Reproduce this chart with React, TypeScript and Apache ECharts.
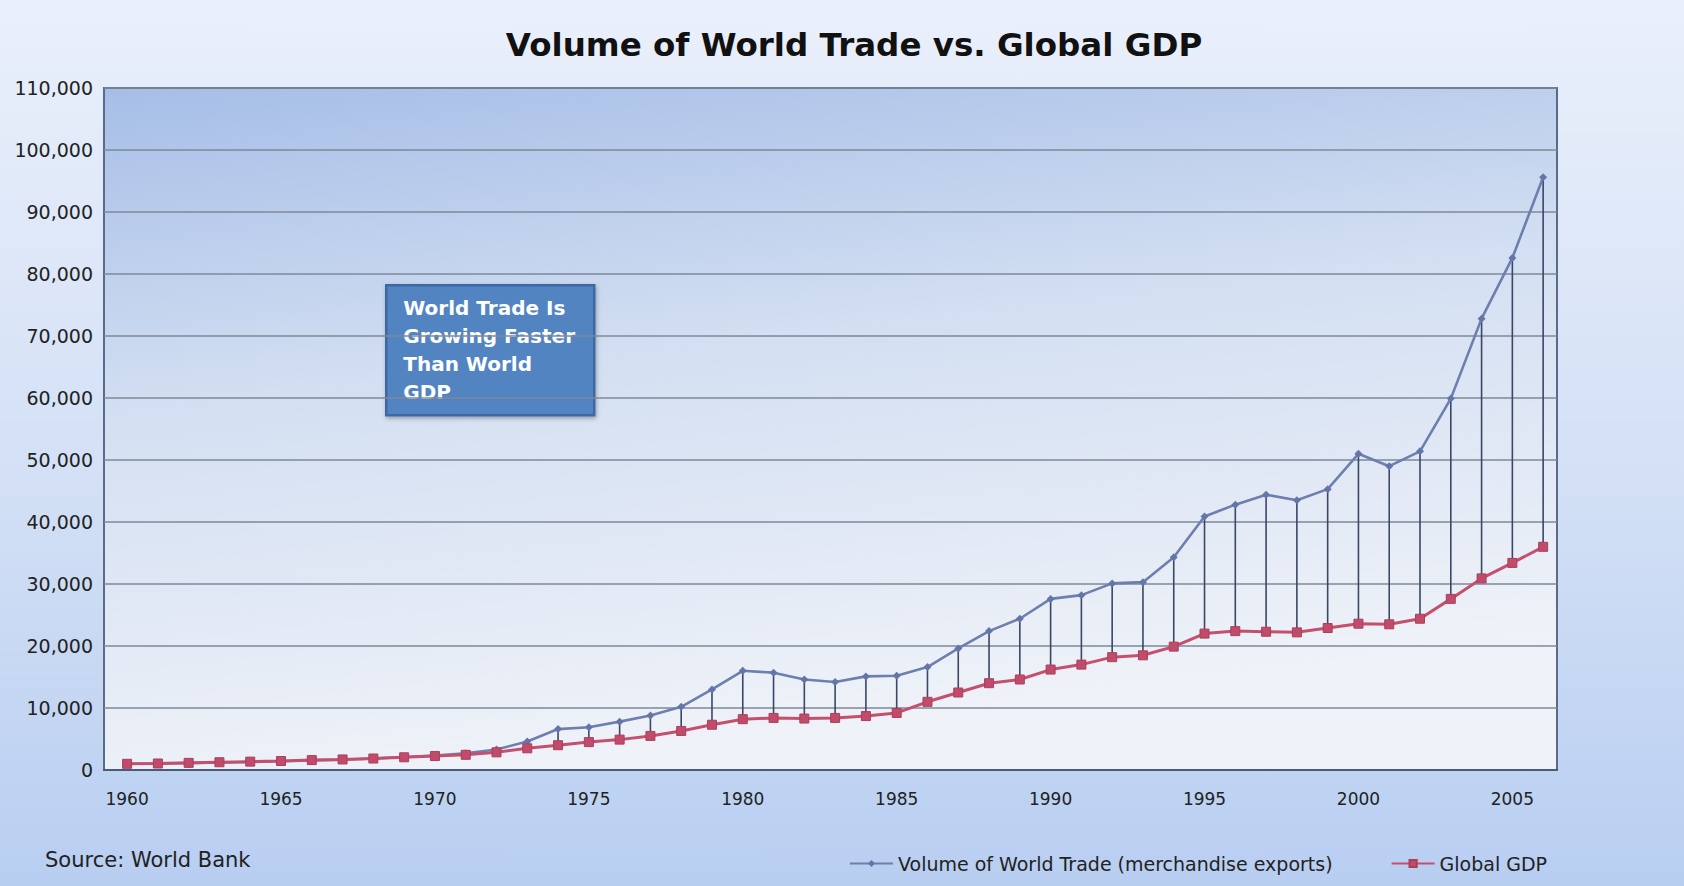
import React, { useEffect, useRef } from "react";
import * as echarts from "echarts";

const years: number[] = [
  1960, 1961, 1962, 1963, 1964, 1965, 1966, 1967, 1968, 1969,
  1970, 1971, 1972, 1973, 1974, 1975, 1976, 1977, 1978, 1979,
  1980, 1981, 1982, 1983, 1984, 1985, 1986, 1987, 1988, 1989,
  1990, 1991, 1992, 1993, 1994, 1995, 1996, 1997, 1998, 1999,
  2000, 2001, 2002, 2003, 2004, 2005, 2006,
];

const worldTrade: number[] = [
  1000, 1050, 1100, 1200, 1300, 1400, 1550, 1650, 1850, 2100,
  2350, 2700, 3300, 4600, 6600, 6900, 7800, 8800, 10200, 13000,
  16000, 15700, 14600, 14200, 15100, 15200, 16600, 19600, 22400, 24400,
  27600, 28200, 30100, 30300, 34300, 40900, 42800, 44400, 43500, 45300,
  51000, 49000, 51400, 59900, 72800, 82600, 95600,
];

const globalGDP: number[] = [
  1000, 1050, 1150, 1250, 1350, 1450, 1600, 1700, 1850, 2050,
  2250, 2450, 2850, 3500, 4000, 4500, 4900, 5500, 6300, 7300,
  8200, 8400, 8300, 8400, 8700, 9200, 11000, 12500, 14000, 14600,
  16200, 17000, 18200, 18500, 19900, 22000, 22400, 22300, 22200, 22900,
  23600, 23500, 24400, 27600, 30900, 33400, 36000,
];

const xTickYears: number[] = [1960, 1965, 1970, 1975, 1980, 1985, 1990, 1995, 2000, 2005];

const seriesNames: string[] = [
  "Volume of World Trade (merchandise exports)",
  "Global GDP",
];

const titleText = "Volume of World Trade vs. Global GDP";
const sourceText = "Source: World Bank";
const noteLines: string[] = ["World Trade Is", "Growing Faster", "Than World", "GDP"];

export default function App() {
  const ref = useRef<HTMLDivElement>(null);

  useEffect(() => {
    document.body.style.margin = "0";
    if (!ref.current) return;
    const chart = echarts.init(ref.current, undefined, { renderer: "svg" });
    const font = "'DejaVu Sans', Verdana, sans-serif";
    const tradePts = years.map((y, i) => [y, worldTrade[i]]);
    const gdpPts = years.map((y, i) => [y, globalGDP[i]]);
    const dropData = years.map((y, i) => [y, worldTrade[i], globalGDP[i]]);

    chart.setOption({
      animation: false,
      backgroundColor: new echarts.graphic.LinearGradient(0, 0, 0, 1, [
        { offset: 0, color: "#eaf0fb" },
        { offset: 0.6, color: "#d0def5" },
        { offset: 1, color: "#b8cef1" },
      ]),
      textStyle: { fontFamily: font },
      title: {
        text: titleText,
        left: 849,
        top: 23,
        textAlign: "center",
        textStyle: { fontSize: 32.5, fontWeight: "bold", color: "#111", fontFamily: font },
      },
      grid: {
        left: 104,
        right: 127,
        top: 88,
        bottom: 116,
        show: true,
        borderColor: "#5a6a88",
        borderWidth: 2,
        backgroundColor: new echarts.graphic.LinearGradient(0, 0, 0.25, 1, [
          { offset: 0, color: "#a6bee7" },
          { offset: 0.45, color: "#d3dff2" },
          { offset: 1, color: "#eff2f8" },
        ]),
      },
      legend: {
        data: seriesNames,
        left: 844,
        top: 849,
        itemWidth: 43,
        itemHeight: 9,
        itemGap: 58,
        textStyle: { fontSize: 19, color: "#222", fontFamily: font },
      },
      xAxis: {
        type: "value",
        min: 1959.25,
        max: 2006.45,
        axisLine: { show: true, onZero: false, lineStyle: { color: "#4a5a78", width: 2 } },
        axisTick: { show: false },
        axisLabel: {
          customValues: xTickYears,
          fontSize: 17,
          color: "#222",
          margin: 20,
          fontFamily: font,
          formatter: (v: number) => String(v),
        },
        splitLine: { show: false },
      },
      yAxis: {
        type: "value",
        min: 0,
        max: 110000,
        interval: 10000,
        axisLine: { show: false },
        axisTick: { show: false },
        axisLabel: {
          fontSize: 19,
          color: "#222",
          margin: 11,
          fontFamily: font,
          formatter: (v: number) => v.toLocaleString("en-US"),
        },
        splitLine: { show: true, lineStyle: { color: "#7e8898", width: 1.6 } },
      },
      series: [
        {
          type: "custom",
          name: "drop",
          silent: true,
          z: 1,
          data: dropData,
          encode: { x: 0, y: [1, 2] },
          renderItem: (params: any, api: any) => {
            const p1 = api.coord([api.value(0), api.value(1)]);
            const p2 = api.coord([api.value(0), api.value(2)]);
            return {
              type: "line",
              shape: { x1: p1[0], y1: p1[1], x2: p2[0], y2: p2[1] },
              style: { stroke: "#3a4766", lineWidth: 1.6 },
            };
          },
        },
        {
          type: "line",
          name: seriesNames[0],
          data: tradePts,
          z: 3,
          symbol: "diamond",
          symbolSize: 8,
          showAllSymbol: true,
          lineStyle: { color: "#6d7fae", width: 2.6 },
          itemStyle: { color: "#6476a8" },
        },
        {
          type: "line",
          name: seriesNames[1],
          data: gdpPts,
          z: 4,
          symbol: "rect",
          symbolSize: 9,
          showAllSymbol: true,
          lineStyle: { color: "#c4506e", width: 3 },
          itemStyle: { color: "#c24a6a", borderColor: "#a8405c", borderWidth: 1 },
        },
      ],
      graphic: [
        {
          type: "text",
          left: 45,
          top: 849,
          style: { text: sourceText, fontSize: 21, fill: "#222", fontFamily: font },
        },
        {
          type: "group",
          left: 385,
          top: 284,
          children: [
            {
              type: "rect",
              shape: { x: 0, y: 0, width: 208, height: 130 },
              style: {
                fill: "#5384c2",
                stroke: "#3d68a2",
                lineWidth: 2.5,
                shadowBlur: 4,
                shadowColor: "rgba(0,0,0,0.3)",
                shadowOffsetX: 1,
                shadowOffsetY: 2,
              },
            },
            {
              type: "text",
              x: 17,
              y: 9,
              style: {
                text: noteLines.join("\n"),
                fontSize: 20,
                fontWeight: "bold",
                lineHeight: 28,
                fill: "#ffffff",
                fontFamily: font,
              },
            },
          ],
        },
      ],
    });

    return () => chart.dispose();
  }, []);

  return (
    <div
      ref={ref}
      style={{ position: "absolute", left: 0, top: 0, width: 1684, height: 886 }}
    />
  );
}
